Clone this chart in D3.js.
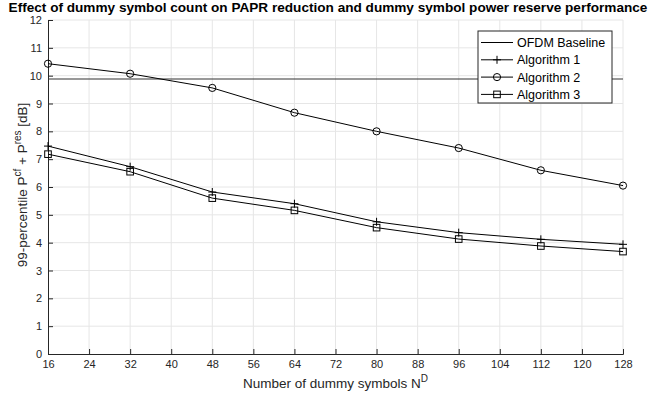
<!DOCTYPE html>
<html>
<head>
<meta charset="utf-8">
<script src="https://cdn.jsdelivr.net/npm/d3@7"></script>
<style>
  body { margin: 0; background: #fff; }
  svg { font-family: "Liberation Sans", Arial, sans-serif; }
</style>
</head>
<body>
<svg id="chart" width="657" height="395"></svg>
<script>
// data
const dummyCounts = [16, 32, 48, 64, 80, 96, 112, 128];
const baseline = 9.88;
const algo1 = [7.47, 6.73, 5.82, 5.40, 4.75, 4.36, 4.12, 3.94];
const algo2 = [10.43, 10.07, 9.56, 8.67, 8.00, 7.40, 6.60, 6.05];
const algo3 = [7.18, 6.55, 5.60, 5.16, 4.54, 4.13, 3.88, 3.68];
const xTicks = [16, 24, 32, 40, 48, 56, 64, 72, 80, 88, 96, 104, 112, 120, 128];
const yTicks = [0, 1, 2, 3, 4, 5, 6, 7, 8, 9, 10, 11, 12];

const svg = d3.select('#chart');
const margin = { top: 20, right: 34, bottom: 41, left: 48 };
const width = 657 - margin.left - margin.right,
      height = 395 - margin.top - margin.bottom;

const g = svg.append('g').attr('transform', 'translate(' + margin.left + ',' + margin.top + ')');

const x = d3.scaleLinear().domain([16, 128]).range([0, width]);
const y = d3.scaleLinear().domain([0, 12]).range([height, 0]);

// grid
g.append('g').selectAll('line').data(xTicks.slice(1)).enter().append('line')
  .attr('x1', d => x(d)).attr('x2', d => x(d))
  .attr('y1', 0).attr('y2', height)
  .attr('stroke', '#e6e6e6');
g.append('g').selectAll('line').data(yTicks.slice(1)).enter().append('line')
  .attr('x1', 0).attr('x2', width)
  .attr('y1', d => y(d)).attr('y2', d => y(d))
  .attr('stroke', '#e6e6e6');

// axes (ticks pointing inward, matlab style)
const xAxis = g.append('g')
  .attr('transform', 'translate(0,' + height + ')')
  .call(d3.axisBottom(x).tickValues(xTicks).tickSize(-5).tickPadding(6));
const yAxis = g.append('g')
  .call(d3.axisLeft(y).tickValues(yTicks).tickSize(-5).tickPadding(6));
[xAxis, yAxis].forEach(a => {
  a.select('.domain').attr('stroke', '#262626');
  a.selectAll('.tick line').attr('stroke', '#262626');
  a.selectAll('.tick text').attr('fill', '#262626').style('font-size', '11px')
    .style('font-family', '"Liberation Sans", Arial, sans-serif');
});

const line = d3.line().x((d, i) => x(dummyCounts[i])).y(d => y(d));

// baseline
g.append('line')
  .attr('x1', 0).attr('x2', width)
  .attr('y1', y(baseline)).attr('y2', y(baseline))
  .attr('stroke', '#333').attr('stroke-width', 1.2);

const series = [
  { name: 'Algorithm 1', values: algo1, marker: 'plus' },
  { name: 'Algorithm 2', values: algo2, marker: 'circle' },
  { name: 'Algorithm 3', values: algo3, marker: 'square' }
];

function drawMarker(sel, type, cx, cy) {
  if (type == 'plus') {
    sel.append('path')
      .attr('d', 'M' + (cx - 4) + ',' + cy + 'H' + (cx + 4) + 'M' + cx + ',' + (cy - 4) + 'V' + (cy + 4))
      .attr('stroke', '#000').attr('fill', 'none');
  } else if (type == 'circle') {
    sel.append('circle').attr('cx', cx).attr('cy', cy).attr('r', 3.6)
      .attr('stroke', '#000').attr('fill', 'none');
  } else {
    sel.append('rect').attr('x', cx - 3.3).attr('y', cy - 3.3)
      .attr('width', 6.6).attr('height', 6.6)
      .attr('stroke', '#000').attr('fill', 'none');
  }
}

series.forEach(s => {
  g.append('path').datum(s.values)
    .attr('d', line)
    .attr('fill', 'none').attr('stroke', '#000').attr('stroke-width', 1);
  const mg = g.append('g');
  s.values.forEach((v, i) => drawMarker(mg, s.marker, x(dummyCounts[i]), y(v)));
});

// legend
const legend = svg.append('g').attr('transform', 'translate(478,31)');
legend.append('rect').attr('width', 134).attr('height', 72)
  .attr('fill', '#fff').attr('stroke', '#262626');
const legendItems = [{ name: 'OFDM Baseline', marker: null }].concat(series);
legendItems.forEach((s, i) => {
  const ly = 11.5 + i * 17.3;
  legend.append('line').attr('x1', 3).attr('x2', 35).attr('y1', ly).attr('y2', ly)
    .attr('stroke', '#000');
  if (s.marker) drawMarker(legend, s.marker, 19, ly);
  legend.append('text').attr('x', 39).attr('y', ly + 4.5)
    .style('font-size', '12.5px').attr('fill', '#000').text(s.name);
});

// title
svg.append('text')
  .attr('x', 328).attr('y', 12)
  .attr('text-anchor', 'middle')
  .style('font-size', '13.6px').style('font-weight', 'bold')
  .text('Effect of dummy symbol count on PAPR reduction and dummy symbol power reserve performance');

// x label
const xl = svg.append('text')
  .attr('x', margin.left + width / 2).attr('y', 388)
  .attr('text-anchor', 'middle')
  .style('font-size', '13.5px').attr('fill', '#262626');
xl.append('tspan').text('Number of dummy symbols N');
xl.append('tspan').attr('dy', -6).style('font-size', '10px').text('D');

// y label
const yl = svg.append('text')
  .attr('transform', 'translate(27,185) rotate(-90)')
  .attr('text-anchor', 'middle')
  .style('font-size', '13.5px').attr('fill', '#262626');
yl.append('tspan').text('99-percentile P');
yl.append('tspan').attr('dy', -6).style('font-size', '10px').text('cf');
yl.append('tspan').attr('dy', 6).text(' + P');
yl.append('tspan').attr('dy', -6).style('font-size', '10px').text('res');
yl.append('tspan').attr('dy', 6).text(' [dB]');
</script>
</body>
</html>
